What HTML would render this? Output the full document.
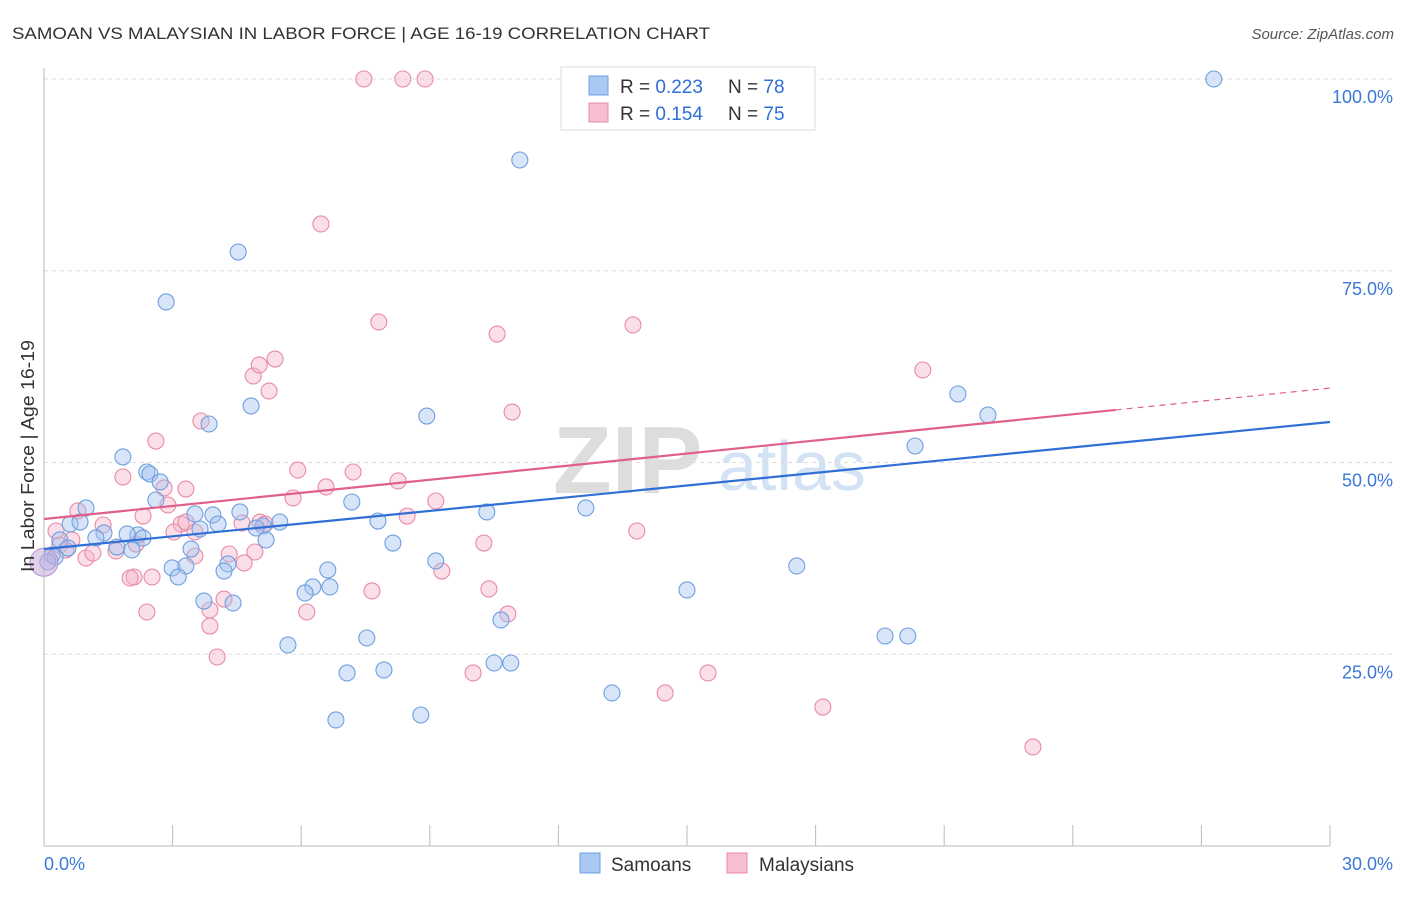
<!DOCTYPE html>
<html><head><meta charset="utf-8"><style>
body{margin:0;background:#fff;font-family:"Liberation Sans",sans-serif}
svg text{font-family:"Liberation Sans",sans-serif}
</style></head><body>
<svg id="chart" width="1406" height="892" xmlns="http://www.w3.org/2000/svg">
<text x="12" y="39" font-size="17" fill="#333" textLength="698" lengthAdjust="spacingAndGlyphs">SAMOAN VS MALAYSIAN IN LABOR FORCE | AGE 16-19 CORRELATION CHART</text>
<text x="1394" y="39" font-size="15" fill="#555" text-anchor="end" font-style="italic">Source: ZipAtlas.com</text>
<g>
<text x="553" y="493" font-size="96" fill="#ddd" font-family="Liberation Serif" font-weight="bold">ZIP</text>
<text x="718" y="490" font-size="70" fill="#d3e2f5">atlas</text>
</g>
<g id="grid"></g>
<g id="axes"></g>
<g id="marks"></g>
<text transform="translate(34,456) rotate(-90)" font-size="18" fill="#333" text-anchor="middle" textLength="232" lengthAdjust="spacingAndGlyphs">In Labor Force | Age 16-19</text>
<g>
<rect x="561" y="67" width="254" height="63" fill="#fff" stroke="#ddd"/>
<rect x="589" y="76" width="19" height="19" fill="#a9c8f2" stroke="#6f9fe0"/>
<rect x="589" y="103" width="19" height="19" fill="#f6bfd0" stroke="#e98aa8"/>
<text x="620" y="93" font-size="19" fill="#333">R = <tspan fill="#2f6fd6">0.223</tspan></text>
<text x="728" y="93" font-size="19" fill="#333">N = <tspan fill="#2f6fd6">78</tspan></text>
<text x="620" y="120" font-size="19" fill="#333">R = <tspan fill="#2f6fd6">0.154</tspan></text>
<text x="728" y="120" font-size="19" fill="#333">N = <tspan fill="#2f6fd6">75</tspan></text>
</g>
<g>
<rect x="580" y="853" width="20" height="20" fill="#a9c8f2" stroke="#6f9fe0"/>
<text x="611" y="871" font-size="19" fill="#333">Samoans</text>
<rect x="727" y="853" width="20" height="20" fill="#f6bfd0" stroke="#e98aa8"/>
<text x="759" y="871" font-size="19" fill="#333">Malaysians</text>
</g>
</svg>
<script>
const yTicks=[25,50,75,100];
const yTickLabels=["25.0%","50.0%","75.0%","100.0%"];
const xTicks=[0,3,6,9,12,15,18,21,24,27,30];
const xEndLabels=["0.0%","30.0%"];
const samoanX=[27.29,11.10,4.53,2.85,4.83,3.85,8.93,21.32,22.02,20.32,1.84,2.40,2.47,2.71,2.61,0.98,7.18,3.52,3.94,4.57,4.06,5.50,5.11,4.95,3.64,7.79,10.33,12.64,0.61,0.84,1.40,1.21,0.37,2.19,2.31,1.94,1.70,2.05,0.56,0.19,0.26,0.09,5.18,8.14,3.43,2.99,3.31,4.29,4.20,3.13,9.14,17.56,6.62,6.27,6.09,6.67,15.00,3.73,4.41,10.66,7.53,5.69,19.62,20.15,10.50,10.89,7.93,7.07,13.25,6.81,8.79,14.25];
const samoanY=[100,89.44,77.44,70.93,57.37,55.02,56.06,58.93,56.19,52.15,50.72,48.76,48.50,47.46,45.11,44.07,44.85,43.29,43.16,43.55,41.98,42.24,41.72,41.46,41.33,42.37,43.55,44.07,41.98,42.24,40.81,40.16,39.90,40.55,40.16,40.68,38.98,38.59,38.85,37.94,37.68,37.03,39.90,39.50,38.72,36.25,36.51,36.77,35.85,35.07,37.16,36.51,35.98,33.77,32.99,33.77,33.38,31.94,31.68,29.47,27.12,26.21,27.38,27.38,23.86,23.86,22.95,22.56,19.95,16.43,17.08,100];
const malayX=[7.46,8.37,8.89,16.42,6.46,7.81,13.74,10.57,20.50,5.39,4.88,5.02,5.25,10.92,3.66,2.61,5.92,7.21,8.26,3.31,6.58,5.81,9.14,1.84,2.80,2.89,0.79,2.31,8.47,1.38,3.20,3.31,3.03,3.52,5.04,5.16,4.62,13.83,10.26,0.28,0.65,0.37,0.51,0.98,1.68,1.14,2.15,4.32,4.92,3.52,4.67,2.10,2.01,2.52,9.28,7.65,10.38,4.20,3.87,10.82,6.13,2.40,3.87,4.04,10.01,14.49,15.49,18.17,23.07];
const malayY=[100,100,100,100,81.10,68.32,67.93,66.75,62.06,63.49,61.28,62.71,59.32,56.58,55.41,52.80,49.02,48.76,47.59,46.54,46.81,45.37,44.98,48.11,46.68,44.46,43.68,43.02,43.02,41.85,41.98,42.24,40.94,40.94,42.24,41.98,42.11,41.07,39.50,41.07,39.90,39.24,38.59,37.55,38.46,38.20,39.37,38.07,38.33,37.81,36.90,35.07,34.94,35.07,35.85,33.25,33.51,32.20,30.77,30.25,30.51,30.51,28.68,24.64,22.56,19.95,22.56,18.12,12.91];
const samoanLine=[38.72,55.28];
const malayLine=[42.63,59.7];
const malaySolidEnd=25.0;
const X0=44,X1=1330,Y0=846,Y100=79;
const sx=v=>X0+(X1-X0)*v/30;
const sy=v=>Y0-(Y0-Y100)*v/100;
const NS="http://www.w3.org/2000/svg";
function mk(t,a,p){const e=document.createElementNS(NS,t);for(const k in a)e.setAttribute(k,a[k]);p.appendChild(e);return e;}
const grid=document.getElementById('grid'),axes=document.getElementById('axes'),marks=document.getElementById('marks');
yTicks.forEach((v,i)=>{
 const l=mk('line',{x1:X0,x2:1394,y1:sy(v),y2:sy(v),stroke:'#ddd','stroke-dasharray':'4,4'},grid);
 
 
 const t=mk('text',{x:1393,y:sy(v)+24,'font-size':18,fill:'#3b78d8','text-anchor':'end'},axes);
 t.textContent=yTickLabels[i];
 
 
});
const ax=mk('line',{x1:X0,x2:X0,y1:68,y2:Y0,stroke:'#bbb'},axes);


const bx=mk('line',{x1:X0,x2:X1,y1:Y0,y2:Y0,stroke:'#bbb'},axes);


xTicks.forEach(v=>{
 const t=mk('line',{x1:sx(v),x2:sx(v),y1:825,y2:Y0,stroke:'#bbb'},axes);
 
 
});
const xl0=mk('text',{x:44,y:870,'font-size':18,fill:'#3b78d8'},axes);xl0.textContent=xEndLabels[0];


const xl1=mk('text',{x:1393,y:870,'font-size':18,fill:'#3b78d8','text-anchor':'end'},axes);xl1.textContent=xEndLabels[1];


function pts(X,Y,fill,stroke,name){X.forEach((x,i)=>{
 const c=mk('circle',{cx:sx(x),cy:sy(Y[i]),r:8,fill:fill,'fill-opacity':0.42,stroke:stroke,'stroke-width':1.1},marks);
 
 
});}
pts(malayX,malayY,'#f4b3c8','#e98aa8','malaysian-point');
pts(samoanX,samoanY,'#a2c2ee','#6f9fe0','samoan-point');
const big=mk('circle',{cx:sx(0),cy:sy(37),r:14,fill:'#c9a9d8','fill-opacity':0.55,stroke:'#b38fcf'},marks);


const bl=mk('line',{x1:sx(0),y1:sy(samoanLine[0]),x2:sx(30),y2:sy(samoanLine[1]),stroke:'#2f6fd6','stroke-width':2.2},marks);


const py=x=>malayLine[0]+(malayLine[1]-malayLine[0])*x/30;
const pl=mk('line',{x1:sx(0),y1:sy(py(0)),x2:sx(malaySolidEnd),y2:sy(py(malaySolidEnd)),stroke:'#e0608a','stroke-width':2.2},marks);


const pd=mk('line',{x1:sx(malaySolidEnd),y1:sy(py(malaySolidEnd)),x2:sx(30),y2:sy(py(30)),stroke:'#e0608a','stroke-width':1.2,'stroke-dasharray':'6,5'},marks);


</script>
</body></html>
